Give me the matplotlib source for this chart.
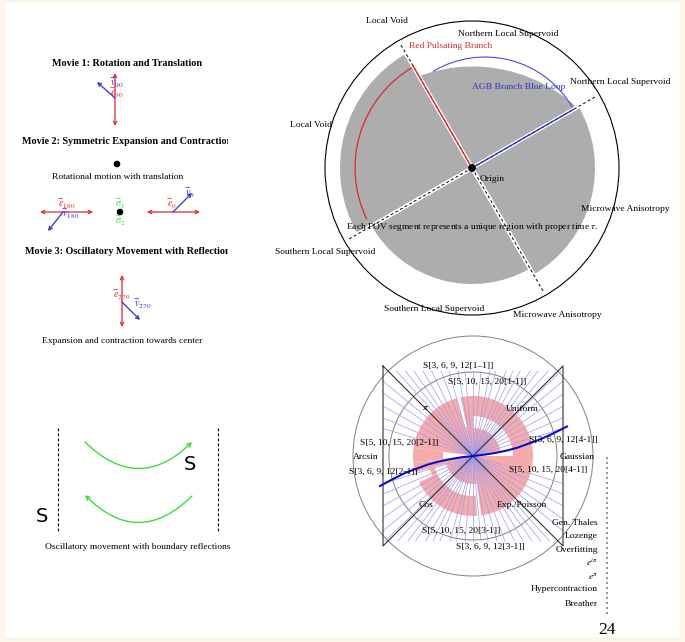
import numpy as np
import matplotlib.pyplot as plt
from matplotlib.patches import Circle, Wedge, Arc, FancyArrowPatch, Rectangle

plt.rcParams['font.family'] = ['Liberation Serif', 'DejaVu Serif']
plt.rcParams['mathtext.fontset'] = 'stix'

W, H = 685, 642
FS = 6.8
RED, BLUE, GREEN, GRAY = "#e02828", "#2f2fd8", "#3ddc3d", "#adadad"

# ---------- left panel: movies ----------
movie_titles = ["Movie 1: Rotation and Translation",
                "Movie 2: Symmetric Expansion and Contraction",
                "Movie 3: Oscillatory Movement with Reflection"]
movie_title_pos = [(127.5, 63), (127.5, 142), (127.5, 251)]

red_arrows = [((115, 73), (115, 126)), ((40, 212), (93, 212)),
              ((147, 212), (200, 212)), ((122, 275), (122, 327))]
blue_arrows = [((115, 98), (97, 82)), ((63, 212), (48, 231)),
               ((173, 212), (192, 193)), ((122, 302), (140, 320))]
e_labels = [r"$\vec{e}_{90}$", r"$\vec{e}_{180}$", r"$\vec{e}_{0}$", r"$\vec{e}_{270}$"]
e_pos = [(117, 93), (67, 204), (172, 204), (122, 295)]
v_labels = [r"$\vec{v}_{90}$", r"$\vec{v}_{180}$", r"$\vec{v}_{0}$", r"$\vec{v}_{270}$"]
v_pos = [(117, 83), (71, 214), (190, 193), (143, 304)]
sigma_labels = [r"$\vec{\sigma}_1$", r"$\vec{\sigma}_2$"]
sigma_pos = [(120, 204), (120, 221)]
dots_left = [(117, 164), (120, 212)]
left_captions = ["Rotational motion with translation",
                 "Expansion and contraction towards center",
                 "Oscillatory movement with boundary reflections"]
left_caption_pos = [(117.5, 177), (122, 341), (138, 547)]

# oscillation sketch
wall_x = [58, 218]
wall_y = (428, 532)
osc_arrows = [((85, 442), (192, 442), 0.49), ((192, 496), (85, 495), -0.5)]
s_pos = [(190, 464), (42, 516)]

# ---------- top right: FOV diagram ----------
fov_c = (472, 168)
fov_R = 147
fov_lines = [30, 120, 210, 300]
gray_sectors = [(-60, 30), (120, 210), (210, 300)]
gray_radii = [123, 132, 116]
top_circle = ((472.5, 220), 153.5)   # circle that shapes the top sector
red_arc_r, red_arc_span = 117, (120, 206)
blue_arc = ((485, 158), 101, (30, 121))
fov_labels = ["Local Void", "Northern Local Supervoid", "Northern Local Supervoid",
              "Local Void", "Microwave Anisotropy", "Southern Local Supervoid",
              "Southern Local Supervoid", "Microwave Anisotropy"]
fov_label_pos = [(387, 21), (508, 34), (620, 82), (311, 125), (625, 209),
                 (325, 252), (434, 309), (557, 315)]

# ---------- bottom right: distributions diagram ----------
dc = (473, 456)
ring_r = [84, 120]
box_half = 90
# (theta1, theta2, r_in, r_out) of the pink sectors, degrees CCW
pink_sectors = [(-82, 0, 0, 60), (0, 10, 40, 60), (10, 90, 0, 28), (10, 90, 40, 60),
                (90, 102, 0, 60), (102, 106, 0, 30), (106, 172, 0, 60),
                (172, 186, 30, 60), (186, 196, 0, 60), (196, 278, 0, 28),
                (196, 206, 40, 45), (206, 274, 40, 60)]
fan_angles = [132, 128.5, 124.8, 120.5, 116, 110.6, 105.8, 100, 95.4, 90, 84.6, 78.7,
              74.9, 68.8, 64.8, 61, 56, 52.6, 48.5, 44,
              140.2, 145, 151, 157, 163,
              39.8, 34.5, 29, 23, 17]
curve_x = [-93, -80, -68, -56, -45, -34, -22, -11, 0, 11, 22, 34, 45, 56, 68, 80, 94]
curve_y = [-30, -23, -17, -12.5, -8.5, -5.5, -3, -1.2, 0, 1.3, 3, 5.5, 8.5, 12.5, 17, 22.5, 29.5]
dist_labels = ["S[3, 6, 9, 12[1\u20131]]", "S[5, 10, 15, 20[1-1]]", r"$\pi$", "Uniform",
               "S[5, 10, 15, 20[2-1]]", "S[3, 6, 9, 12[4-1]]", "Arcsin", "Gaussian",
               "S[3, 6, 9, 12[2-1]]", "S[5, 10, 15, 20[4-1]]", "Cos", "Exp./Poisson",
               "S[5, 10, 15, 20[3-1]]", "S[3, 6, 9, 12[3-1]]"]
dist_label_pos = [(458, 366), (487, 382), (426, 408), (522, 409), (399, 443), (563, 440),
                  (366, 457), (577, 457), (383, 472), (548, 470), (426, 505), (522, 505),
                  (461, 531), (490, 547)]
side_list = ["Gen. Thales", "Lozenge", "Overfitting", r"$e^{i\pi}$", r"$e^{\pi}$",
             "Hypercontraction", "Breather"]
side_list_y = [523, 536, 550, 562, 577, 589, 604]


def pt(c, r, a):
    a = np.radians(a)
    return c[0] + r * np.cos(a), c[1] - r * np.sin(a)


def wedge(c, r, a1, a2, **kw):
    return Wedge(c, r, -a2, -a1, **kw)


def arrow(ax, p0, p1, style, color, lw=0.9, ms=6, rad=0.0):
    ax.add_patch(FancyArrowPatch(p0, p1, arrowstyle=style, color=color, lw=lw,
                                 mutation_scale=ms, shrinkA=0, shrinkB=0,
                                 connectionstyle=f"arc3,rad={rad}"))


fig = plt.figure(figsize=(W / 100, H / 100), dpi=100, facecolor="#fdf5e8")
ax = fig.add_axes([0, 0, 1, 1])
ax.set_xlim(0, W)
ax.set_ylim(H, 0)
ax.axis("off")
ax.add_patch(Rectangle((5, 3), 675, 634, fc="white", ec="none", zorder=0))

# ----- left panel -----
axl = fig.add_axes([0, 0, 228 / W, 1])
axl.set_xlim(0, 228)
axl.set_ylim(H, 0)
axl.axis("off")
axl.patch.set_alpha(0)
for t, (x, y) in zip(movie_titles, movie_title_pos):
    axl.text(x, y, t, ha="center", va="center", fontsize=7.3, fontweight="bold", clip_on=True)

for p0, p1 in red_arrows:
    arrow(ax, p0, p1, "<->", RED)
for p0, p1 in blue_arrows:
    arrow(ax, p0, p1, "->", BLUE)
for t, (x, y) in zip(e_labels, e_pos):
    ax.text(x, y, t, color=RED, ha="center", va="center", fontsize=7.5)
for t, (x, y) in zip(v_labels, v_pos):
    ax.text(x, y, t, color=BLUE, ha="center", va="center", fontsize=7.5)
for t, (x, y) in zip(sigma_labels, sigma_pos):
    ax.text(x, y, t, color=GREEN, ha="center", va="center", fontsize=7.5)
for x, y in dots_left:
    ax.add_patch(Circle((x, y), 2.6, color="black"))
for t, (x, y) in zip(left_captions, left_caption_pos):
    ax.text(x, y, t, ha="center", va="center", fontsize=FS)

for x in wall_x:
    ax.plot([x, x], wall_y, color="black", lw=0.8, ls=(0, (2.5, 2)))
for p0, p1, rad in osc_arrows:
    arrow(ax, p0, p1, "->", GREEN, lw=1.0, ms=7, rad=rad)
for x, y in s_pos:
    ax.text(x, y, "S", ha="center", va="center", fontsize=14, family="DejaVu Sans")

# ----- top right FOV diagram -----
ax.add_patch(Circle(fov_c, fov_R, fc="none", ec="black", lw=0.8))
for (a1, a2), r in zip(gray_sectors, gray_radii):
    ax.add_patch(wedge(fov_c, r, a1, a2, fc=GRAY, ec="none"))
top = Circle(top_circle[0], top_circle[1], fc=GRAY, ec="none")
ax.add_patch(top)
clip = wedge(fov_c, 200, 30, 120, transform=ax.transData)
top.set_clip_path(clip)

for a in fov_lines:
    x1, y1 = pt(fov_c, 144, a)
    ax.plot([fov_c[0], x1], [fov_c[1], y1], color="white", lw=3.0)
    ax.plot([fov_c[0], x1], [fov_c[1], y1], color="black", lw=0.7, ls=(0, (3, 2.5)))

x1, y1 = pt(fov_c, 119, 120)
ax.plot([fov_c[0], x1], [fov_c[1], y1], color=RED, lw=1.0)
ax.add_patch(Arc(fov_c, 2 * red_arc_r, 2 * red_arc_r, theta1=-red_arc_span[1],
                 theta2=-red_arc_span[0], color=RED, lw=0.9))
x1, y1 = pt(fov_c, 117, 30)
ax.plot([fov_c[0], x1], [fov_c[1], y1], color=BLUE, lw=1.0)
bc, br, (b1, b2) = blue_arc
ax.add_patch(Arc(bc, 2 * br, 2 * br, theta1=-b2, theta2=-b1, color="#4848f0", lw=0.8))
ax.add_patch(Circle(fov_c, 3.2, color="black", zorder=5))

for t, (x, y) in zip(fov_labels, fov_label_pos):
    ax.text(x, y, t, ha="center", va="center", fontsize=FS)
ax.text(451, 46, "Red Pulsating Branch", color=RED, ha="center", va="center", fontsize=FS)
ax.text(519, 87, "AGB Branch Blue Loop", color=BLUE, ha="center", va="center", fontsize=FS)
ax.text(492.5, 179, "Origin", ha="center", va="center", fontsize=FS)
ax.text(472, 227, r"Each FOV segment represents a unique region with proper time $\tau$.",
        ha="center", va="center", fontsize=FS)

# ----- bottom right distributions diagram -----
for r in ring_r:
    ax.add_patch(Circle(dc, r, fc="none", ec="#808080", lw=0.7))
for a1, a2, r_in, r_out in pink_sectors:
    ax.add_patch(wedge(dc, r_out, a1, a2, width=r_out - r_in, fc="#f6abab", ec="none"))
for a in fan_angles:
    ca, sa = np.cos(np.radians(a)), np.sin(np.radians(a))
    t = min(box_half / abs(ca) if abs(ca) > 1e-6 else 1e9, 85 / abs(sa) if abs(sa) > 1e-6 else 1e9)
    ax.plot([dc[0] - t * ca, dc[0] + t * ca], [dc[1] + t * sa, dc[1] - t * sa],
            color="#9a9af2", lw=0.5)
b = box_half
ax.plot([dc[0] - b, dc[0] - b, dc[0] + b, dc[0] + b, dc[0] - b],
        [dc[1] - b, dc[1] + b, dc[1] - b, dc[1] + b, dc[1] - b], color="#303030", lw=0.8)
ax.plot(np.array(curve_x) + dc[0], dc[1] - np.array(curve_y), color="#0a0ad0", lw=1.5)
for t, (x, y) in zip(dist_labels, dist_label_pos):
    ax.text(x, y, t, ha="center", va="center", fontsize=FS)
for t, y in zip(side_list, side_list_y):
    ax.text(598, y, t, ha="right", va="center", fontsize=FS)
ax.plot([607, 607], [457, 617], color="#808080", lw=1.2, ls=(0, (1.2, 1.8)))
ax.text(607, 630, "24", ha="center", va="center", fontsize=12.5)

fig.savefig("out.png", dpi=100, facecolor=fig.get_facecolor())
